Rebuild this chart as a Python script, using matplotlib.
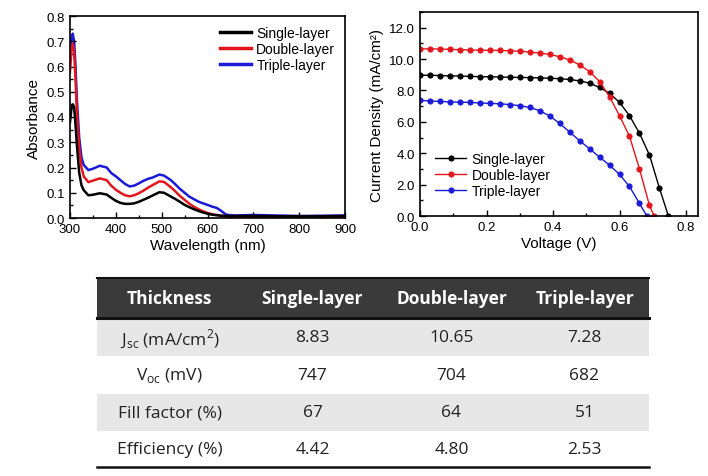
import numpy as np
import matplotlib
matplotlib.use("Agg")
import matplotlib.pyplot as plt
from matplotlib.ticker import MultipleLocator, FormatStrFormatter
from matplotlib.patches import Rectangle

plt.rcParams['font.family'] = ['Liberation Sans', 'DejaVu Sans']
plt.rcParams['mathtext.fontset'] = 'custom'
plt.rcParams['mathtext.rm'] = 'Open Sans'

# ---- absorbance spectra ----
wl = [300, 303, 306, 309, 312, 315, 320, 325, 330, 340, 350, 365, 380, 390,
      400, 410, 420, 430, 440, 450, 460, 470, 480, 495, 505, 520, 530, 540,
      550, 560, 570, 580, 590, 600, 610, 620, 630, 640, 650, 660, 680, 700,
      750, 800, 850, 900]
abs_single = [0.38, 0.43, 0.45, 0.44, 0.37, 0.29, 0.18, 0.13, 0.11, 0.09, 0.092,
              0.098, 0.093, 0.08, 0.068, 0.06, 0.056, 0.056, 0.058, 0.064, 0.072,
              0.08, 0.089, 0.102, 0.1, 0.085, 0.075, 0.064, 0.052, 0.043, 0.035,
              0.028, 0.022, 0.017, 0.013, 0.011, 0.009, 0.008, 0.008, 0.008,
              0.008, 0.008, 0.007, 0.007, 0.007, 0.008]
abs_double = [0.58, 0.66, 0.69, 0.66, 0.55, 0.42, 0.28, 0.2, 0.165, 0.142, 0.148,
              0.157, 0.15, 0.128, 0.112, 0.1, 0.09, 0.086, 0.09, 0.098, 0.108,
              0.12, 0.13, 0.145, 0.143, 0.122, 0.105, 0.087, 0.072, 0.057, 0.045,
              0.035, 0.027, 0.02, 0.015, 0.012, 0.009, 0.007, 0.006, 0.005,
              0.004, 0.004, 0.003, 0.003, 0.003, 0.004]
abs_triple = [0.62, 0.71, 0.73, 0.7, 0.6, 0.47, 0.32, 0.24, 0.21, 0.19, 0.195,
              0.207, 0.2, 0.178, 0.165, 0.15, 0.135, 0.125, 0.128, 0.137, 0.147,
              0.155, 0.16, 0.172, 0.168, 0.15, 0.133, 0.115, 0.1, 0.085, 0.075,
              0.065, 0.058, 0.052, 0.045, 0.04, 0.028, 0.014, 0.011, 0.01,
              0.011, 0.012, 0.01, 0.008, 0.009, 0.01]

# ---- J-V curves ----
v_single = [0.00, 0.03, 0.06, 0.09, 0.12, 0.15, 0.18, 0.21, 0.24, 0.27, 0.30,
            0.33, 0.36, 0.39, 0.42, 0.45, 0.48, 0.51, 0.54, 0.57, 0.60, 0.63,
            0.66, 0.69, 0.72, 0.747]
j_single = [8.97, 8.97, 8.95, 8.93, 8.92, 8.90, 8.88, 8.87, 8.86, 8.84, 8.83,
            8.82, 8.80, 8.78, 8.75, 8.70, 8.61, 8.47, 8.19, 7.82, 7.24, 6.39,
            5.27, 3.89, 1.78, 0.0]
v_double = [0.00, 0.03, 0.06, 0.09, 0.12, 0.15, 0.18, 0.21, 0.24, 0.27, 0.30,
            0.33, 0.36, 0.39, 0.42, 0.45, 0.48, 0.51, 0.54, 0.57, 0.60, 0.63,
            0.66, 0.69, 0.704]
j_double = [10.65, 10.65, 10.64, 10.62, 10.60, 10.58, 10.57, 10.56, 10.55, 10.53,
            10.50, 10.45, 10.38, 10.30, 10.15, 9.95, 9.63, 9.20, 8.57, 7.60,
            6.39, 5.08, 3.00, 0.68, 0.0]
v_triple = [0.00, 0.03, 0.06, 0.09, 0.12, 0.15, 0.18, 0.21, 0.24, 0.27, 0.30,
            0.33, 0.36, 0.39, 0.42, 0.45, 0.48, 0.51, 0.54, 0.57, 0.60, 0.63,
            0.66, 0.682]
j_triple = [7.37, 7.33, 7.30, 7.27, 7.25, 7.24, 7.20, 7.18, 7.15, 7.10, 7.03,
            6.92, 6.71, 6.37, 5.90, 5.35, 4.80, 4.28, 3.75, 3.24, 2.65, 1.88,
            0.80, 0.0]

labels = ['Single-layer', 'Double-layer', 'Triple-layer']
colors = ['#000000', '#e3161d', '#1a1ad8']

# ---- table ----
col_header = ['Thickness', 'Single-layer', 'Double-layer', 'Triple-layer']
row_names = [r'J$_{\mathrm{sc}}$ (mA/cm$^{\mathrm{2}}$)', r'V$_{\mathrm{oc}}$ (mV)',
             'Fill factor (%)', 'Efficiency (%)']
jsc = ['8.83', '10.65', '7.28']
voc = ['747', '704', '682']
ff = ['67', '64', '51']
eff = ['4.42', '4.80', '2.53']

W, H = 708, 477
fig = plt.figure(figsize=(W / 100, H / 100), dpi=100)


def style(ax):
    ax.tick_params(which='both', direction='in', top=False, right=False,
                   labelsize=9.5, width=1)
    ax.tick_params(which='major', length=4)
    ax.tick_params(which='minor', length=2)
    for s in ax.spines.values():
        s.set_linewidth(1.2)


# absorbance
ax1 = fig.add_axes([70 / W, 1 - 219 / H, 275 / W, 202 / H])
for y, lab, c, z in zip([abs_single, abs_double, abs_triple], labels, colors, [3, 2, 1]):
    ax1.plot(wl, y, color=c, lw=1.8, label=lab, zorder=z)
ax1.set_xlim(300, 900)
ax1.set_ylim(0, 0.8)
ax1.xaxis.set_major_locator(MultipleLocator(100))
ax1.xaxis.set_minor_locator(MultipleLocator(50))
ax1.yaxis.set_major_locator(MultipleLocator(0.1))
ax1.yaxis.set_minor_locator(MultipleLocator(0.05))
ax1.yaxis.set_major_formatter(FormatStrFormatter('%.1f'))
style(ax1)
ax1.set_xlabel('Wavelength (nm)', fontsize=11, labelpad=2)
ax1.set_ylabel('Absorbance', fontsize=11, labelpad=4)
leg = ax1.legend(loc='upper right', frameon=False, fontsize=10, handlelength=2.2,
                 handletextpad=0.4, labelspacing=0.15, borderaxespad=0.3)
for h in leg.get_lines():
    h.set_linewidth(2.5)

# J-V
ax2 = fig.add_axes([420 / W, 1 - 217 / H, 278 / W, 204 / H])
for v, j, lab, c in zip([v_single, v_double, v_triple],
                        [j_single, j_double, j_triple], labels, colors):
    ax2.plot(v, j, color=c, lw=1.0, marker='o', ms=3.8, mfc=c, mec=c,
             mew=0.6, label=lab)
ax2.set_xlim(0, 0.836)
ax2.set_ylim(0, 13)
ax2.xaxis.set_major_locator(MultipleLocator(0.2))
ax2.xaxis.set_minor_locator(MultipleLocator(0.1))
ax2.yaxis.set_major_locator(MultipleLocator(2))
ax2.yaxis.set_minor_locator(MultipleLocator(1))
ax2.xaxis.set_major_formatter(FormatStrFormatter('%.1f'))
ax2.yaxis.set_major_formatter(FormatStrFormatter('%.1f'))
style(ax2)
ax2.set_xlabel('Voltage (V)', fontsize=11, labelpad=2)
ax2.set_ylabel('Current Density (mA/cm²)', fontsize=11, labelpad=4)
ax2.legend(loc='lower left', frameon=False, fontsize=10, handlelength=2.2,
           handletextpad=0.4, labelspacing=0.15, borderaxespad=0.3,
           bbox_to_anchor=(0.02, 0.04))

# table
axt = fig.add_axes([0, 0, 1, 1])
axt.set_xlim(0, W)
axt.set_ylim(H, 0)
axt.axis('off')
col_edges = [97, 242, 383, 520, 649]
row_edges = [278, 320, 357, 395, 432, 468]
tfont = ['Open Sans', 'DejaVu Sans']

axt.add_patch(Rectangle((col_edges[0], row_edges[0]), col_edges[-1] - col_edges[0],
                        row_edges[1] - row_edges[0], color='#3a3a3a', lw=0))
axt.plot([col_edges[0], col_edges[-1]], [row_edges[0] + 0.5] * 2, color='#111111', lw=1.5)
axt.plot([col_edges[0], col_edges[-1]], [row_edges[1] - 1] * 2, color='#111111', lw=2.2)
for i in (0, 2):
    axt.add_patch(Rectangle((col_edges[0], row_edges[i + 1]),
                            col_edges[-1] - col_edges[0],
                            row_edges[i + 2] - row_edges[i + 1],
                            color='#e7e7e7', lw=0))
axt.plot([col_edges[0], col_edges[-1]], [row_edges[-1]] * 2, color='#111111', lw=1.8)

centers = [(col_edges[k] + col_edges[k + 1]) / 2 for k in range(4)]
for k, txt in enumerate(col_header):
    axt.text(centers[k], (row_edges[0] + row_edges[1]) / 2, txt, color='white',
             fontsize=12.5, fontweight='bold', ha='center', va='center', family=tfont)
for i, vals in enumerate([jsc, voc, ff, eff]):
    yc = (row_edges[i + 1] + row_edges[i + 2]) / 2
    axt.text(centers[0], yc, row_names[i], color='#222222', fontsize=12.5,
             ha='center', va='center', family=tfont)
    for k, v in enumerate(vals):
        axt.text(centers[k + 1], yc, v, color='#222222', fontsize=12.5,
                 ha='center', va='center', family=tfont)

fig.savefig('out.png', dpi=100)
